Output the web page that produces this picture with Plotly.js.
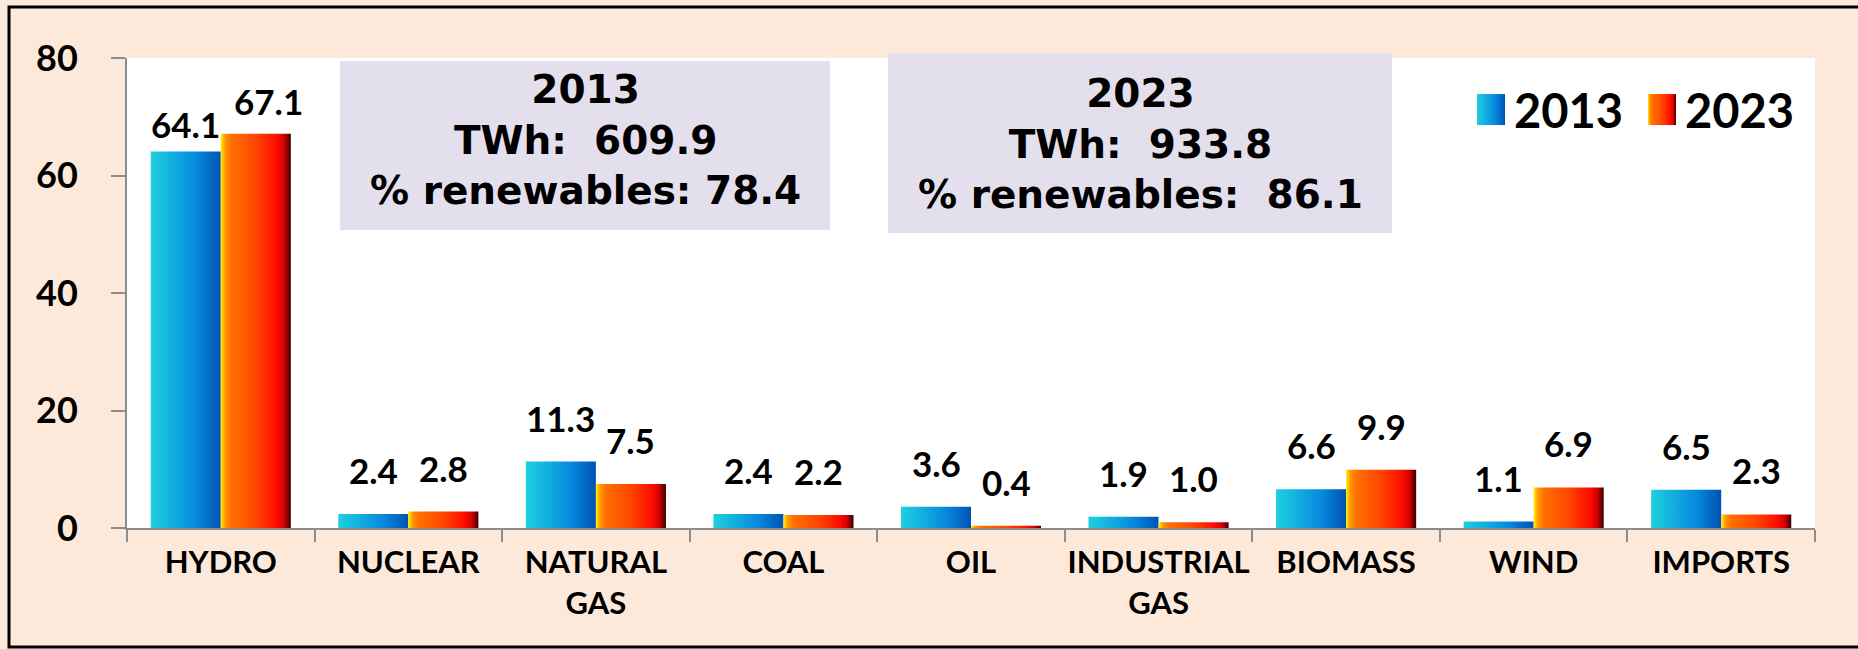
<!DOCTYPE html>
<html><head><meta charset="utf-8">
<script src="https://cdn.plot.ly/plotly-3.0.1.min.js"></script>
<style>html,body{margin:0;padding:0;background:#FDE9D9;} #chart{width:1858px;height:649px;}</style>
</head><body><div id="chart"></div>
<script>
// ---------- data ----------
const categories = ['HYDRO', 'NUCLEAR', 'NATURAL<br>GAS', 'COAL', 'OIL', 'INDUSTRIAL<br>GAS', 'BIOMASS', 'WIND', 'IMPORTS'];
const values2013 = [64.1, 2.4, 11.3, 2.4, 3.6, 1.9, 6.6, 1.1, 6.5];
const values2023 = [67.1, 2.8, 7.5, 2.2, 0.4, 1.0, 9.9, 6.9, 2.3];
const seriesNames = ['2013', '2023'];
const yTickVals = [0, 20, 40, 60, 80];
const summaryYears = ['2013', '2023'];
const summaryTWh = ['609.9', '933.8'];
const summaryRenewables = ['78.4', '86.1'];

// ---------- geometry helpers (pixel -> paper) ----------
const W = 1858, H = 649, L = 127, R = 1815, T = 58, B = 528;
const fx = px => (px - L) / (R - L);
const fy = py => (B - py) / (B - T);

const FONT = 'Lato, "Open Sans", sans-serif';
const BOXFONT = '"DejaVu Sans", Verdana, sans-serif';
const AXIS = '#8C8C8C';

const gradients = [
  {id: 'g2013', stops: [[0, '#1FD0DD'], [0.35, '#10AAE0'], [0.65, '#0688DE'], [1, '#0052B2']]},
  {id: 'g2023', stops: [[0, '#FFF200'], [0.06, '#FF9A00'], [0.14, '#FF7200'], [0.5, '#FF4600'], [0.8, '#FF0C00'], [0.9, '#D80000'], [1, '#3A0000']]}
];

const traces = [values2013, values2023].map((vals, s) => ({
  type: 'bar',
  name: seriesNames[s],
  x: categories,
  y: vals,
  marker: {color: s === 0 ? '#0A90E0' : '#FF3A00', line: {width: 0}},
  hoverinfo: 'skip'
}));

// value labels
const annotations = [];
const xOff = [-35, 35];
[values2013, values2023].forEach((vals, s) => {
  vals.forEach((v, i) => {
    let xs = xOff[s], ys = 21;
    if (i === 0) { ys = s === 0 ? 4 : 10; if (s === 1) xs += 13; }
    annotations.push({
      x: categories[i], y: v, xref: 'x', yref: 'y',
      xshift: xs, yshift: ys, yanchor: 'bottom', xanchor: 'center',
      showarrow: false, text: v.toFixed(1),
      font: {family: FONT, size: 35, color: '#000', weight: 700}
    });
  });
});

// summary boxes
const boxes = [
  {x0: 340, x1: 830, y0: 61, y1: 230, ty: 140},
  {x0: 888, x1: 1392, y0: 53, y1: 233, ty: 144}
];
const shapes = [];
boxes.forEach((b, k) => {
  shapes.push({type: 'rect', xref: 'paper', yref: 'paper', x0: fx(b.x0), x1: fx(b.x1), y0: fy(b.y1), y1: fy(b.y0),
    fillcolor: '#E4DFEC', line: {width: 0}, layer: 'above'});
  annotations.push({
    xref: 'paper', yref: 'paper', x: fx((b.x0 + b.x1) / 2), y: fy(b.ty), xanchor: 'center', yanchor: 'middle',
    showarrow: false, align: 'center',
    text: summaryYears[k] + '<br>TWh:&nbsp; ' + summaryTWh[k] + '<br>% renewables:' + (k === 1 ? '&nbsp; ' : ' ') + summaryRenewables[k],
    font: {family: BOXFONT, size: 39, color: '#000', weight: 700}
  });
});
// outer border
shapes.push({type: 'rect', xref: 'paper', yref: 'paper', x0: fx(9), x1: fx(1900), y0: fy(647), y1: fy(7),
  line: {color: '#000', width: 3}, fillcolor: 'rgba(0,0,0,0)', layer: 'above'});

const layout = {
  width: W, height: H,
  margin: {l: L, r: W - R, t: T, b: H - B, pad: 0},
  paper_bgcolor: '#FDE9D9',
  plot_bgcolor: '#FFFFFF',
  barmode: 'group', bargap: 0.253, bargroupgap: 0,
  showlegend: true,
  legend: {orientation: 'h', x: fx(1468), xanchor: 'left', y: fy(73), yanchor: 'top',
    bgcolor: 'rgba(0,0,0,0)', borderwidth: 0, itemwidth: 36, entrywidth: 120,
    font: {family: FONT, size: 47, color: '#000', weight: 700}},
  xaxis: {type: 'category', tickson: 'boundaries', ticks: 'outside', ticklen: 12, tickwidth: 2, tickcolor: AXIS,
    showline: true, linecolor: AXIS, linewidth: 2, showgrid: false, zeroline: false, tickangle: 0,
    tickfont: {family: FONT, size: 31, color: '#000', weight: 700}, ticklabelstandoff: 6},
  yaxis: {range: [0, 80], tickvals: yTickVals, ticks: 'outside', ticklen: 14, tickwidth: 2, tickcolor: AXIS,
    showline: true, linecolor: AXIS, linewidth: 2, showgrid: false, zeroline: false,
    tickfont: {family: FONT, size: 36, color: '#000', weight: 700}, ticklabelstandoff: 26},
  shapes: shapes,
  annotations: annotations
};

const gd = document.getElementById('chart');
Plotly.newPlot(gd, traces, layout, {staticPlot: true, displayModeBar: false}).then(() => {
  const NS = 'http://www.w3.org/2000/svg';
  const svg = gd.querySelector('svg.main-svg');
  let defs = svg.querySelector('defs');
  if (!defs) { defs = document.createElementNS(NS, 'defs'); svg.insertBefore(defs, svg.firstChild); }
  gradients.forEach(g => {
    const lg = document.createElementNS(NS, 'linearGradient');
    lg.setAttribute('id', g.id);
    lg.setAttribute('x1', '0'); lg.setAttribute('y1', '0'); lg.setAttribute('x2', '1'); lg.setAttribute('y2', '0');
    g.stops.forEach(st => {
      const s = document.createElementNS(NS, 'stop');
      s.setAttribute('offset', st[0]); s.setAttribute('stop-color', st[1]);
      lg.appendChild(s);
    });
    defs.appendChild(lg);
  });
  gd.querySelectorAll('.barlayer .trace').forEach((tr, i) => {
    tr.querySelectorAll('path').forEach(p => { p.style.fill = 'url(#' + gradients[i].id + ')'; });
  });
  gd.querySelectorAll('.legend .traces').forEach((tr, i) => {
    tr.querySelectorAll('.legendpoints path').forEach(p => {
      p.setAttribute('d', 'M14,15H-14V-16H14Z');
      p.style.fill = 'url(#' + gradients[i].id + ')';
      p.style.stroke = 'none';
    });
  });
});
</script>
</body></html>
